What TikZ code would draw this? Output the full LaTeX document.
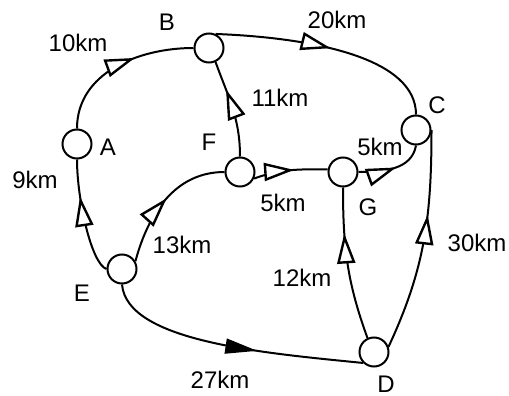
\documentclass[tikz,border=0pt]{standalone}
\usepackage{fontspec}
\setmainfont{Liberation Sans}
\usetikzlibrary{arrows.meta,decorations.markings}
\begin{document}
\begin{tikzpicture}[x=1pt,y=-1pt,
  town/.style={circle,draw,line width=2pt,minimum size=29pt,inner sep=0pt,fill=white},
  road/.style={line width=2pt},
  mid/.style={postaction={decorate},decoration={markings,mark=at position #1 with {\arrow{Triangle[open,length=30pt,width=18pt,line width=2.4pt,fill=white]}}}},
  midf/.style={postaction={decorate},decoration={markings,mark=at position #1 with {\arrow{Triangle[length=32pt,width=15pt]}}}},
  lbl/.style={font=\fontsize{24}{28}\selectfont,inner sep=0pt}]
\useasboundingbox (0,0) rectangle (509,396);
\node[town] (A) at (77,144) {};
\node[town] (B) at (209,48) {};
\node[town] (C) at (416,130) {};
\node[town] (F) at (240,172) {};
\node[town] (G) at (343,172) {};
\node[town] (E) at (122,269) {};
\node[town] (D) at (374,352) {};
% roads
\draw[road,mid=0.62] (A.north) to[out=90,in=180] (B.west);
\draw[road,mid=0.5] (B.65) .. controls +(103,4) and +(0,-55) .. (C.north);
\draw[road,mid=0.7] (F.north) to[out=90,in=-70] (B.-65);
\draw[road,mid=0.68] (E.west) .. controls +(-15,-5) and +(0,40) .. (A.south);
\draw[road,mid=0.52] (E.30) to[out=75,in=180] (F.west);
\draw[road,mid=0.55] (F.-25) to[out=20,in=180] (G.170);
\draw[road,mid=0.55] (G.east) to[out=0,in=-100] (C.south);
\draw[road,mid=0.7] (D.115) to[out=110,in=-90] (G.south);
\draw[road,mid=0.62] (D.20) to[out=65,in=-90] (C.east);
\draw[road,midf=0.6] (E.south) .. controls +(5,57) and +(-100,-10) .. (D.225);
% labels
\node[lbl] (lA) at (108,147) {A};
\node[lbl] (lB) at (167,22) {B};
\node[lbl] (lC) at (437,105) {C};
\node[lbl] (lF) at (209,142) {F};
\node[lbl] (lG) at (368,207) {G};
\node[lbl] (lE) at (82,293) {E};
\node[lbl] (lD) at (386,384) {D};
\node[lbl] (dAB) at (78,43) {10km};
\node[lbl] (dBC) at (337,20) {20km};
\node[lbl] (dFB) at (280,98) {11km};
\node[lbl] (dEA) at (35,180) {9km};
\node[lbl] (dEF) at (182,245) {13km};
\node[lbl] (dFG) at (283,203) {5km};
\node[lbl] (dGC) at (380,147) {5km};
\node[lbl] (dDG) at (302,278) {12km};
\node[lbl] (dDC) at (477,243) {30km};
\node[lbl] (dED) at (220,380) {27km};
\end{tikzpicture}
\end{document}
